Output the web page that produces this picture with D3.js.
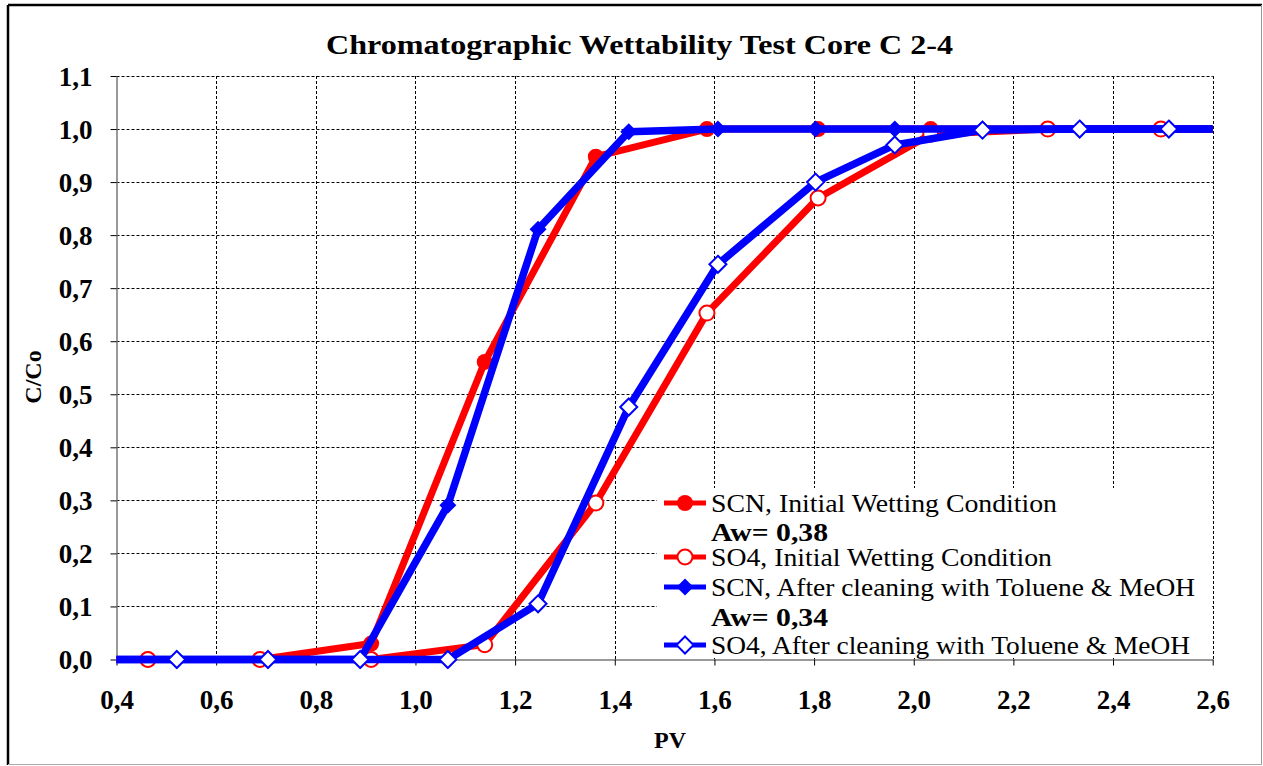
<!DOCTYPE html>
<html>
<head>
<meta charset="utf-8">
<script src="https://cdn.jsdelivr.net/npm/d3@7"></script>
<style>
  body { margin: 0; background: #fff; }
  svg { display: block; font-family: "Liberation Serif", "Times New Roman", serif; }
</style>
</head>
<body>
<svg width="1263" height="766"></svg>
<script>
// data
var pvInitial  = [0.238, 0.463, 0.688, 0.911, 1.139, 1.362, 1.585, 1.808, 2.034, 2.269, 2.496, 2.72];
var scnInitial = [0, 0, 0, 0.03, 0.561, 0.948, 1.0, 1.0, 1.0, 1.0, 1.0, 1.0];
var so4Initial = [0, 0, 0, 0, 0.028, 0.295, 0.653, 0.87, 0.99, 1.0, 1.0, 1.0];

var pvCleaned  = [0.338, 0.521, 0.704, 0.889, 1.065, 1.246, 1.428, 1.607, 1.803, 1.962, 2.138, 2.333, 2.512, 2.69];
var scnCleaned = [0, 0, 0, 0, 0.291, 0.811, 0.995, 1, 1, 1, 1, 1, 1, 1];
var so4Cleaned = [0, 0, 0, 0, 0, 0.105, 0.476, 0.745, 0.9, 0.97, 0.998, 1, 1, 1];

var xTicks = [0.4, 0.6, 0.8, 1.0, 1.2, 1.4, 1.6, 1.8, 2.0, 2.2, 2.4, 2.6];
var yTicks = [0, 0.1, 0.2, 0.3, 0.4, 0.5, 0.6, 0.7, 0.8, 0.9, 1.0, 1.1];

var legendItems = [
  {label: "SCN, Initial Wetting Condition", color: "#ff0000", shape: "circle", filled: true, w: 346},
  {label: "Aw= 0,38", bold: true, w: 117},
  {label: "SO4, Initial Wetting Condition", color: "#ff0000", shape: "circle", filled: false, w: 341},
  {label: "SCN, After cleaning with Toluene & MeOH", color: "#0000ff", shape: "diamond", filled: true, w: 484},
  {label: "Aw= 0,34", bold: true, w: 117},
  {label: "SO4, After cleaning with Toluene & MeOH", color: "#0000ff", shape: "diamond", filled: false, w: 479}
];

var series = [
  {xs: pvInitial, ys: scnInitial, color: "#ff0000", shape: "circle", filled: true, lw: 7},
  {xs: pvInitial, ys: so4Initial, color: "#ff0000", shape: "circle", filled: false, lw: 7},
  {xs: pvCleaned, ys: scnCleaned, color: "#0000ff", shape: "diamond", filled: true, lw: 7.5},
  {xs: pvCleaned, ys: so4Cleaned, color: "#0000ff", shape: "diamond", filled: false, lw: 7.5}
];

var svg = d3.select("svg");
var fmt = function(d){ return d3.format(".1f")(d).replace(".", ","); };

var x = d3.scaleLinear().domain([0.4, 2.6]).range([116.5, 1212.7]);
var y = d3.scaleLinear().domain([0, 1.1]).range([659.5, 76]);

// outer frame
svg.append("line").attr("x1", 8).attr("y1", 5).attr("x2", 1262).attr("y2", 5).attr("stroke", "#000").attr("stroke-width", 2.5);
svg.append("line").attr("x1", 8).attr("y1", 5).attr("x2", 8).attr("y2", 765).attr("stroke", "#000").attr("stroke-width", 2.5);
svg.append("line").attr("x1", 1261.5).attr("y1", 5).attr("x2", 1261.5).attr("y2", 765).attr("stroke", "#999").attr("stroke-width", 1);
svg.append("line").attr("x1", 8).attr("y1", 764.5).attr("x2", 1262).attr("y2", 764.5).attr("stroke", "#aaa").attr("stroke-width", 1);

// title
svg.append("text").attr("x", 326).attr("y", 54)
  .attr("font-size", 27).attr("font-weight", "bold")
  .attr("textLength", 627).attr("lengthAdjust", "spacingAndGlyphs")
  .text("Chromatographic Wettability Test Core C 2-4");

// grid
var grid = svg.append("g");
grid.selectAll(".gx").data(xTicks.slice(1)).enter().append("line")
  .attr("x1", function(d){ return Math.round(x(d)) + 0.5; }).attr("x2", function(d){ return Math.round(x(d)) + 0.5; })
  .attr("y1", y(1.1)).attr("y2", y(0))
  .attr("stroke", "#000").attr("stroke-width", 1).attr("stroke-dasharray", "3,2");
grid.selectAll(".gy").data(yTicks.slice(1)).enter().append("line")
  .attr("y1", function(d){ return Math.round(y(d)) + 0.5; }).attr("y2", function(d){ return Math.round(y(d)) + 0.5; })
  .attr("x1", x(0.4)).attr("x2", x(2.6))
  .attr("stroke", "#000").attr("stroke-width", 1).attr("stroke-dasharray", "3,2");

// axes
var xAxis = d3.axisBottom(x).tickValues(xTicks).tickFormat(fmt).tickSize(6).tickSizeOuter(0);
var yAxis = d3.axisLeft(y).tickValues(yTicks).tickFormat(fmt).tickSize(6).tickSizeOuter(0);

var gX = svg.append("g").attr("transform", "translate(0," + y(0) + ")").call(xAxis);
var gY = svg.append("g").attr("transform", "translate(" + x(0.4) + ",0)").call(yAxis);
[gX, gY].forEach(function(g){
  g.attr("font-family", null).attr("font-size", null);
  g.select(".domain").attr("stroke", "#777").attr("stroke-width", 1.5);
  g.selectAll(".tick line").attr("stroke", "#000");
  g.selectAll("text").attr("font-size", 27).attr("font-weight", "bold").attr("fill", "#000");
});
gX.selectAll("text").attr("dy", "0").attr("y", 49);
gY.selectAll("text").attr("x", -24).attr("dy", "0.35em");

// axis titles
svg.append("text").attr("x", 670).attr("y", 748).attr("text-anchor", "middle")
  .attr("font-size", 24).attr("font-weight", "bold").text("PV");
svg.append("text").attr("transform", "translate(41,377) rotate(-90)").attr("text-anchor", "middle")
  .attr("font-size", 24).attr("font-weight", "bold").text("C/Co");

// clip for the plot
svg.append("defs").append("clipPath").attr("id", "clip")
  .append("rect").attr("x", x(0.4)).attr("y", 60).attr("width", x(2.6) - x(0.4)).attr("height", y(0) - 60 + 10);

var plot = svg.append("g").attr("clip-path", "url(#clip)");

function drawMarker(g, shape, color, filled, cx, cy) {
  if (shape === "circle") {
    g.append("circle").attr("cx", cx).attr("cy", cy).attr("r", filled ? 8 : 7.5)
      .attr("fill", filled ? color : "#fff").attr("stroke", color).attr("stroke-width", filled ? 0 : 2);
  } else {
    var s = 8.5;
    g.append("path").attr("d", "M" + cx + "," + (cy - s) + "L" + (cx + s) + "," + cy + "L" + cx + "," + (cy + s) + "L" + (cx - s) + "," + cy + "Z")
      .attr("fill", filled ? color : "#fff").attr("stroke", color).attr("stroke-width", filled ? 0 : 2);
  }
}

var line = d3.line().x(function(d){ return x(d[0]); }).y(function(d){ return y(d[1]); });

series.forEach(function(s){
  var pts = s.xs.map(function(v, i){ return [v, s.ys[i]]; });
  var g = plot.append("g");
  g.append("path").datum(pts).attr("d", line).attr("fill", "none")
    .attr("stroke", s.color).attr("stroke-width", s.lw).attr("stroke-linejoin", "round");
  pts.forEach(function(p){ drawMarker(g, s.shape, s.color, s.filled, x(p[0]), y(p[1])); });
});

// legend
var lg = svg.append("g");
lg.append("rect").attr("x", 657).attr("y", 488).attr("width", 555).attr("height", 170).attr("fill", "#fff");
var rowY = [503, 532, 557, 587, 617, 645];
legendItems.forEach(function(it, i){
  var yy = rowY[i];
  if (it.color) {
    lg.append("line").attr("x1", 664).attr("x2", 706).attr("y1", yy).attr("y2", yy)
      .attr("stroke", it.color).attr("stroke-width", 5);
    drawMarker(lg, it.shape, it.color, it.filled, 685, yy);
  }
  lg.append("text").attr("x", 711).attr("y", yy).attr("dy", "0.35em")
    .attr("font-size", 25).attr("font-weight", it.bold ? "bold" : "normal")
    .attr("textLength", it.w).attr("lengthAdjust", "spacingAndGlyphs")
    .text(it.label);
});
</script>
</body>
</html>
